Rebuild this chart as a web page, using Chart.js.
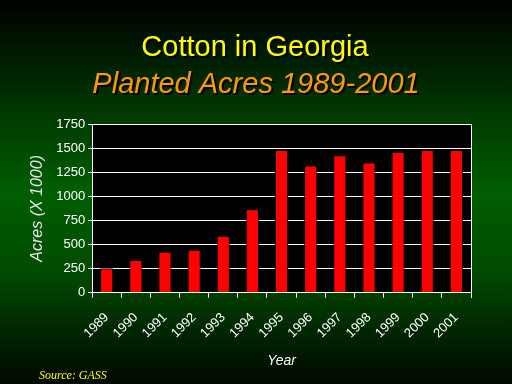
<!DOCTYPE html>
<html>
<head>
<meta charset="utf-8">
<script src="https://cdn.jsdelivr.net/npm/chart.js@4/dist/chart.umd.min.js"></script>
<style>
  html, body { margin: 0; padding: 0; }
  body {
    width: 512px; height: 384px; overflow: hidden;
    background: linear-gradient(to bottom, #000000 0%, #002a00 22%, #005e00 50%, #004c00 70%, #002200 88%, #000800 100%);
  }
  canvas { display: block; }
</style>
</head>
<body>
<canvas id="chart" width="512" height="384"></canvas>
<script>
var years = ["1989", "1990", "1991", "1992", "1993", "1994", "1995", "1996", "1997", "1998", "1999", "2000", "2001"];
var acres = [255, 340, 425, 445, 590, 865, 1480, 1320, 1425, 1350, 1460, 1480, 1480];
var yTicks = [0, 250, 500, 750, 1000, 1250, 1500, 1750];

// black plot area plus white frame on top/right, titles and source note
var decor = {
  id: 'decor',
  beforeDraw: function (chart) {
    var a = chart.chartArea, ctx = chart.ctx;
    ctx.save();
    ctx.fillStyle = '#000';
    ctx.fillRect(a.left, a.top, a.right - a.left, a.bottom - a.top);
    ctx.restore();
  },
  afterDraw: function (chart) {
    var a = chart.chartArea, ctx = chart.ctx;
    ctx.save();
    ctx.strokeStyle = '#fff';
    ctx.lineWidth = 1;
    ctx.beginPath();
    ctx.moveTo(a.left, a.top + 0.5);
    ctx.lineTo(a.right + 0.5, a.top + 0.5);
    ctx.lineTo(a.right + 0.5, a.bottom + 5);
    ctx.stroke();

    ctx.textAlign = 'center';
    ctx.textBaseline = 'middle';
    ctx.shadowColor = 'rgba(0,0,0,0.9)';
    ctx.shadowOffsetX = 2;
    ctx.shadowOffsetY = 2;
    ctx.fillStyle = '#ffff00';
    ctx.font = '29px "Liberation Sans", Arial, sans-serif';
    ctx.fillText('Cotton in Georgia', 255, 48);
    ctx.fillStyle = '#ff9900';
    ctx.font = 'italic 29px "Liberation Sans", Arial, sans-serif';
    ctx.fillText('Planted Acres 1989-2001', 256, 85);

    ctx.shadowColor = 'transparent';
    ctx.textAlign = 'left';
    ctx.fillStyle = '#ffff00';
    ctx.font = 'italic 12px "Liberation Serif", serif';
    ctx.fillText('Source: GASS', 39, 376);
    ctx.restore();
  }
};

new Chart(document.getElementById('chart'), {
  type: 'bar',
  data: {
    labels: years,
    datasets: [{
      data: acres,
      backgroundColor: '#ff0000',
      borderColor: '#000000',
      borderWidth: 1,
      borderSkipped: 'bottom',
      barPercentage: 0.45,
      categoryPercentage: 1.0
    }]
  },
  options: {
    responsive: false,
    animation: false,
    layout: { padding: { left: 28, right: 41, top: 124, bottom: 14 } },
    plugins: {
      legend: { display: false },
      tooltip: { enabled: false }
    },
    scales: {
      x: {
        offset: true,
        grid: { offset: true, drawOnChartArea: false, color: '#fff', tickLength: 5 },
        border: { color: '#fff', width: 1 },
        ticks: {
          color: '#fff', minRotation: 45, maxRotation: 45, padding: 12,
          font: { family: '"Liberation Sans", Arial, sans-serif', size: 13 }
        },
        title: {
          display: true, text: 'Year', color: '#fff', padding: { top: 0, bottom: 0 },
          font: { family: '"Liberation Sans", Arial, sans-serif', size: 14, style: 'italic' }
        }
      },
      y: {
        min: 0, max: 1750,
        afterBuildTicks: function (axis) {
          axis.ticks = yTicks.map(function (v) { return { value: v }; });
        },
        grid: { color: '#fff', lineWidth: 1, tickLength: 4 },
        border: { color: '#fff', width: 1 },
        ticks: {
          color: '#fff', padding: 3,
          callback: function (v) { return String(v); },
          font: { family: '"Liberation Sans", Arial, sans-serif', size: 13 }
        },
        title: {
          display: true, text: 'Acres (X 1000)', color: '#e8e8e8', padding: { top: 0, bottom: 6 },
          font: { family: '"Liberation Sans", Arial, sans-serif', size: 16, style: 'italic' }
        }
      }
    }
  },
  plugins: [decor]
});
</script>
</body>
</html>
